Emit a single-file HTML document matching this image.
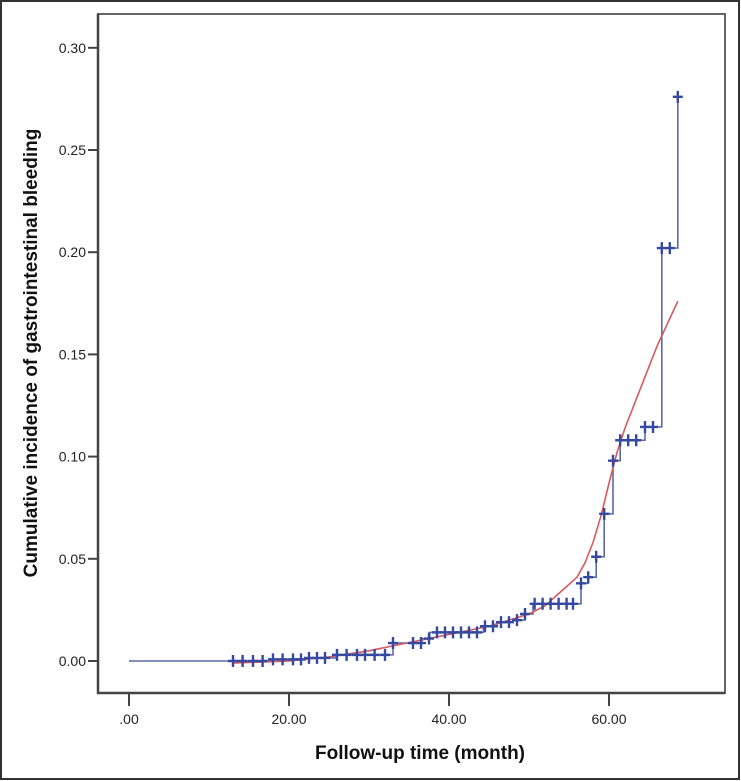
<!DOCTYPE html>
<html><head><meta charset="utf-8"><style>
html,body{margin:0;padding:0;background:#fff;}
svg{display:block;font-family:"Liberation Sans",Arial,sans-serif;}
</style></head><body>
<svg id="chart" width="741" height="781" viewBox="0 0 741 781">
<rect x="1" y="1" width="738" height="778" fill="#fff" stroke="#333" stroke-width="2"/>
<rect x="98" y="14" width="627" height="679" fill="#fff" stroke="#666" stroke-width="2"/>
<line x1="98" y1="14" x2="98" y2="694" stroke="#444" stroke-width="2.5"/>
<line x1="97" y1="693" x2="725" y2="693" stroke="#444" stroke-width="2.5"/>
<g id="yticks"></g>
<g id="xticks"></g>
<g id="series"></g>
<text x="420" y="759" text-anchor="middle" font-size="19" font-weight="bold" fill="#111">Follow-up time (month)</text>
<text transform="translate(37,353) rotate(-90)" text-anchor="middle" font-size="19" font-weight="bold" fill="#111">Cumulative incidence of gastrointestinal bleeding</text>
</svg>
<script>
const xTicks=[0,20,40,60];
const xTickLabels=[".00","20.00","40.00","60.00"];
const yTicks=[0,0.05,0.10,0.15,0.20,0.25,0.30];
const yTickLabels=["0.00","0.05","0.10","0.15","0.20","0.25","0.30"];
const stepTimes=[0,18,22,26,33,36.6,37.6,44.3,46,48,49.5,50.5,56.5,57.4,58.4,59.4,60.5,61.4,64.5,66.6,68.6];
const stepValues=[0,0.0008,0.0015,0.003,0.0088,0.011,0.014,0.017,0.019,0.020,0.023,0.028,0.038,0.041,0.051,0.072,0.098,0.108,0.1145,0.202,0.276];
const censorTimes=[13,14.2,15.5,16.7,18,19.2,20.5,21.5,22.5,23.5,24.5,26,27.2,28.5,29.5,30.7,32,33,35.5,36.5,37.5,38.5,39.5,40.5,41.5,42.5,43.5,44.5,45.5,46.5,47.5,48.5,49.5,50.7,51.7,52.7,53.7,54.7,55.5,56.5,57.4,58.4,59.4,60.5,61.4,62.4,63.4,64.5,65.5,66.6,67.6,68.6];
const fitTimes=[13,20,25,30,35,40,45,50,52,54,56,57,58,59,60,61,62,64,66,68.6];
const fitValues=[-0.001,0.0,0.002,0.005,0.009,0.013,0.017,0.023,0.027,0.034,0.041,0.048,0.058,0.071,0.087,0.102,0.114,0.134,0.154,0.176];

const NS="http://www.w3.org/2000/svg";
const xs=t=>129+8*t;
const ys=v=>661-2044*v;
function mk(tag,attrs,parent){const e=document.createElementNS(NS,tag);for(const k in attrs)e.setAttribute(k,attrs[k]);parent.appendChild(e);return e;}
const yg=document.getElementById('yticks'),xg=document.getElementById('xticks'),sg=document.getElementById('series');
yTicks.forEach((v,i)=>{
  const l=mk('line',{x1:88,x2:98,y1:ys(v),y2:ys(v),stroke:'#444','stroke-width':2},yg);
  
  
  const t=mk('text',{x:86,y:ys(v)+5,'text-anchor':'end','font-size':14,fill:'#222'},yg);
  t.textContent=yTickLabels[i];
  
  
});
xTicks.forEach((v,i)=>{
  const l=mk('line',{x1:xs(v),x2:xs(v),y1:693,y2:706,stroke:'#444','stroke-width':2},xg);
  
  
  const t=mk('text',{x:xs(v),y:724,'text-anchor':'middle','font-size':14,fill:'#222'},xg);
  t.textContent=xTickLabels[i];
  
  
});
function stepAt(t){let v=0;for(let i=0;i<stepTimes.length;i++){if(stepTimes[i]<=t)v=stepValues[i];}return v;}
let d='M'+xs(stepTimes[0])+','+ys(stepValues[0]);
for(let i=1;i<stepTimes.length;i++){d+=' H'+xs(stepTimes[i])+' V'+ys(stepValues[i]);}
const sp=mk('path',{d:d,fill:'none',stroke:'#5a6aa8','stroke-width':1.6},sg);


let fd='';
fitTimes.forEach((t,i)=>{fd+=(i?' L':'M')+xs(t)+','+ys(fitValues[i]);});
const fp=mk('path',{d:fd,fill:'none',stroke:'#d9595e','stroke-width':1.6,'stroke-linejoin':'round'},sg);


censorTimes.forEach(t=>{
  const x=xs(t),y=ys(stepAt(t));
  const c=mk('path',{d:`M${x-5},${y} H${x+5} M${x},${y-6} V${y+6}`,stroke:'#3549a0','stroke-width':2.4},sg);
  
  
});
</script>
</body></html>
